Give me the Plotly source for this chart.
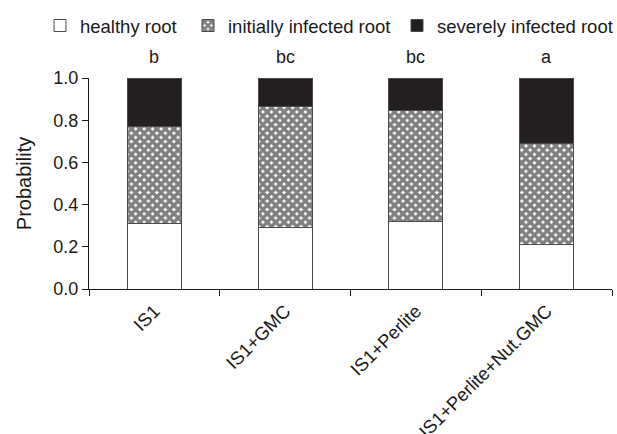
import plotly.graph_objects as go

# Root condition probabilities per treatment
treatments = ["IS1", "IS1+GMC", "IS1+Perlite", "IS1+Perlite+Nut.GMC"]
healthy = [0.31, 0.29, 0.32, 0.21]
initially_infected = [0.46, 0.575, 0.525, 0.48]
severely_infected = [0.23, 0.135, 0.155, 0.31]
significance = ["b", "bc", "bc", "a"]
series_names = ["healthy root", "initially infected root", "severely infected root"]

FONT = "Arial, Liberation Sans, sans-serif"
INK = "#1a1a1a"
EDGE = "#4a4a4a"

fig = go.Figure()

fig.add_trace(go.Bar(
    x=treatments, y=healthy, name=series_names[0], legend="legend", showlegend=True,
    marker=dict(color="white", line=dict(color=EDGE, width=1)),
))
fig.add_trace(go.Bar(
    x=treatments, y=initially_infected, name=series_names[1], legend="legend2", showlegend=True,
    marker=dict(color="white", line=dict(color=EDGE, width=1),
                pattern=dict(shape="x", size=6, solidity=0.8,
                             fgcolor="#000000", bgcolor="white")),
))
fig.add_trace(go.Bar(
    x=treatments, y=severely_infected, name=series_names[2], legend="legend3", showlegend=True,
    marker=dict(color="#231f20", line=dict(color=EDGE, width=1)),
))

# significance letters above each stacked bar
for t, s in zip(treatments, significance):
    fig.add_annotation(x=t, y=1.0, xref="x", yref="y", text=s, showarrow=False,
                       yanchor="bottom", yshift=9, font=dict(size=18, color=INK, family=FONT))

leg_common = dict(orientation="h", xref="container", yref="container", visible=True,
                  xanchor="left", yanchor="middle", y=1 - 26 / 434,
                  bgcolor="rgba(0,0,0,0)", font=dict(size=18.5, color=INK, family=FONT))

fig.update_layout(
    width=617, height=434,
    showlegend=True,
    margin=dict(l=89, r=5, t=78, b=145, autoexpand=False),
    barmode="stack",
    bargap=0.587,
    plot_bgcolor="white", paper_bgcolor="white",
    font=dict(family=FONT, size=18, color=INK),
    legend=dict(x=40 / 617, **leg_common),
    legend2=dict(x=188 / 617, **leg_common),
    legend3=dict(x=397 / 617, **leg_common),
    xaxis=dict(showline=True, linecolor=INK, linewidth=1, ticks="outside",
               tickson="boundaries", ticklen=6, tickcolor=INK, tickangle=-45,
               ticklabelstandoff=3, automargin=False,
               showgrid=False, tickfont=dict(size=18.5, family=FONT, color=INK)),
    yaxis=dict(range=[0, 1], dtick=0.2, tickformat=".1f", showline=True,
               linecolor=INK, linewidth=1, ticks="outside", ticklen=6,
               tickcolor=INK, showgrid=False, zeroline=False, automargin=False,
               tickfont=dict(size=18, family=FONT, color=INK),
               title=dict(text="Probability", standoff=16,
                          font=dict(size=20, family=FONT, color=INK))),
)

fig.write_html("out.html")
